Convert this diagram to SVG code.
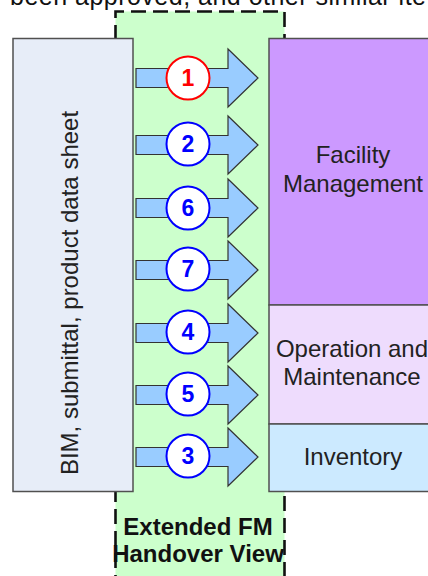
<svg xmlns="http://www.w3.org/2000/svg" width="428" height="576" viewBox="0 0 428 576">
  <style>
    text { font-family: "Liberation Sans", Arial, sans-serif; }
    .box { stroke: #505050; stroke-width: 1.5; }
    .lbl { font-size: 24px; fill: #222; text-anchor: middle; }
    .arrow { fill: #99ccff; stroke: #333; stroke-width: 1.2; }
    .circ { fill: #fff; stroke: #0000ff; stroke-width: 2; }
    .num { font-size: 23px; font-weight: bold; fill: #0000ff; text-anchor: middle; }
    .red .circ { stroke: #ff0000; }
    .red .num { fill: #ff0000; }
  </style>
  <defs>
    <path id="arr" d="M136,-9.5 H228 V-29 L258,0 L228,29 V9.5 H136 Z"/>
  </defs>
  <text x="10" y="5" style="font-size:25px" textLength="416" fill="#111">been approved, and other similar ite</text>

  <g id="fm-view">
    <rect x="115.5" y="11.5" width="169" height="600" fill="#ccffcc"/>
    <path d="M115.5,590 V11.5 H284.5 V590" fill="none" stroke="#111" stroke-width="2.6" stroke-dasharray="15 7"/>
    <text x="198" y="535" style="font-size:24px;font-weight:bold;text-anchor:middle" fill="#111">Extended FM</text>
    <text x="198" y="562" style="font-size:24px;font-weight:bold;text-anchor:middle" fill="#111">Handover View</text>
  </g>

  <g id="source">
    <rect class="box" x="13" y="38.5" width="120" height="453" fill="#e7edf8"/>
    <text class="lbl" transform="translate(78,293) rotate(-90)">BIM, submittal, product data sheet</text>
  </g>

  <g id="facility-management">
    <rect class="box" x="269" y="38.5" width="170" height="266.5" fill="#cc99ff"/>
    <text class="lbl" x="353" y="163">Facility</text>
    <text class="lbl" x="353" y="192">Management</text>
  </g>
  <g id="operation-maintenance">
    <rect class="box" x="269" y="305" width="170" height="119" fill="#eedcfd"/>
    <text class="lbl" x="352" y="357">Operation and</text>
    <text class="lbl" x="352" y="385">Maintenance</text>
  </g>
  <g id="inventory">
    <rect class="box" x="269" y="424" width="170" height="67.5" fill="#cceaff"/>
    <text class="lbl" x="353" y="465">Inventory</text>
  </g>

  <g id="connectors">
    <g id="arrow-1" class="red" transform="translate(0,78)">
      <use href="#arr" class="arrow"/>
      <circle class="circ" cx="188" cy="0" r="21.5"/>
      <text class="num" x="188" y="8">1</text>
    </g>
    <g id="arrow-2" transform="translate(0,145)">
      <use href="#arr" class="arrow"/>
      <circle class="circ" cx="188" cy="-1" r="21.5"/>
      <text class="num" x="188" y="7">2</text>
    </g>
    <g id="arrow-6" transform="translate(0,208)">
      <use href="#arr" class="arrow"/>
      <circle class="circ" cx="188" cy="0" r="21.5"/>
      <text class="num" x="188" y="8">6</text>
    </g>
    <g id="arrow-7" transform="translate(0,270)">
      <use href="#arr" class="arrow"/>
      <circle class="circ" cx="188" cy="-1" r="21.5"/>
      <text class="num" x="188" y="7">7</text>
    </g>
    <g id="arrow-4" transform="translate(0,333)">
      <use href="#arr" class="arrow"/>
      <circle class="circ" cx="188" cy="-1" r="21.5"/>
      <text class="num" x="188" y="7">4</text>
    </g>
    <g id="arrow-5" transform="translate(0,395)">
      <use href="#arr" class="arrow"/>
      <circle class="circ" cx="188" cy="-1" r="21.5"/>
      <text class="num" x="188" y="7">5</text>
    </g>
    <g id="arrow-3" transform="translate(0,457)">
      <use href="#arr" class="arrow"/>
      <circle class="circ" cx="188" cy="-1" r="21.5"/>
      <text class="num" x="188" y="7">3</text>
    </g>
  </g>
</svg>
